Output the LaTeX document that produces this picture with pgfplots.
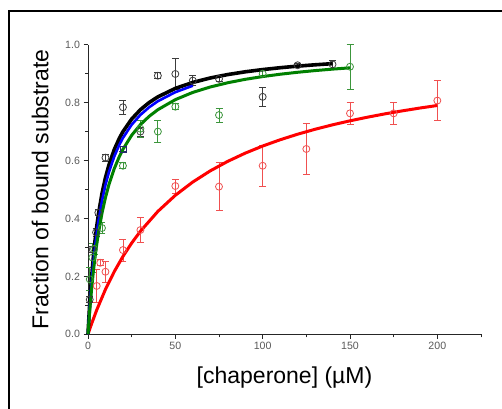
\documentclass[border=0pt]{standalone}
\usepackage{fontspec}
\setmainfont{Liberation Sans}
\usepackage{pgfplots}
\pgfplotsset{compat=1.18}
\definecolor{ptblack}{RGB}{60,60,60}
\definecolor{ptgreen}{RGB}{60,150,60}
\definecolor{ptred}{RGB}{240,80,80}
\definecolor{ptblue}{RGB}{40,40,110}
\definecolor{fitgreen}{RGB}{0,128,0}
\definecolor{ticktext}{RGB}{90,90,90}
\begin{document}
\begin{tikzpicture}
\useasboundingbox (0,0) rectangle (502pt,408pt);
\fill[white] (0,0) rectangle (502pt,408pt);
\draw[line width=1.2pt] (9pt,397pt) rectangle (530pt,-30pt);
\begin{axis}[
  at={(88pt,73.7pt)}, anchor=south west,
  scale only axis,
  width=393pt, height=289.6pt,
  xmin=0, xmax=225, ymin=0, ymax=1.0,
  axis x line*=bottom, axis y line*=left,
  axis line style={line width=1pt, black!85},
  xtick={0,50,100,150,200},
  minor xtick={25,75,125,175,225},
  ytick={0,0.2,0.4,0.6,0.8,1.0},
  minor ytick={0.1,0.3,0.5,0.7,0.9},
  tick align=outside,
  major tick length=4.5pt, minor tick length=3pt,
  every tick/.style={black!85, line width=0.9pt},
  tick label style={font=\fontsize{10.6}{12}\selectfont, text=ticktext},
  /pgf/number format/assume math mode=true,
  yticklabel style={/pgf/number format/fixed, /pgf/number format/fixed zerofill, /pgf/number format/precision=1},
  xlabel={[chaperone] (\textmu M)},
  ylabel={Fraction of bound substrate},
  every axis x label/.style={at={(axis description cs:0.5,-0.151)}, anchor=center,
    font=\fontsize{23}{26}\selectfont},
  every axis y label/.style={at={(axis description cs:-0.122,0.5)}, rotate=90, anchor=center,
    font=\fontsize{23}{26}\selectfont},
  clip=false,
  error bars/y dir=both, error bars/y explicit,
]
% data points
\addplot[only marks, mark=o, mark size=3.5pt, ptblack, line width=0.8pt,
  error bars/error bar style={line width=0.8pt, ptblack},
  error bars/error mark options={rotate=90, mark size=3.5pt, line width=0.8pt}]
  coordinates {
  (1,0.12) +- (0,0.01)
  (2.7,0.293) +- (0,0.01)
  (4.6,0.352) +- (0,0.015)
  (5.9,0.42) +- (0,0.01)
  (10,0.61) +- (0,0.012)
  (20,0.784) +- (0,0.025)
  (30,0.70) +- (0,0.015)
  (40,0.893) +- (0,0.01)
  (50,0.899) +- (0,0.053)
  (60,0.876) +- (0,0.017)
  (75,0.882) +- (0,0.01)
  (100,0.82) +- (0,0.033)
  (120,0.929) +- (0,0.008)
  (140,0.932) +- (0,0.015)
};
\addplot[only marks, mark=square, mark size=3pt, ptblue, line width=0.8pt,
  error bars/error bar style={line width=0.8pt, ptblue},
  error bars/error mark options={rotate=90, mark size=3.5pt, line width=0.8pt}]
  coordinates {
  (20,0.64) +- (0,0.01)
};
\addplot[only marks, mark=o, mark size=3.5pt, ptgreen, line width=0.8pt,
  error bars/error bar style={line width=0.8pt, ptgreen},
  error bars/error mark options={rotate=90, mark size=3.5pt, line width=0.8pt}]
  coordinates {
  (1,0.19) +- (0,0.04)
  (2.5,0.265) +- (0,0.05)
  (3.5,0.295) +- (0,0.02)
  (8,0.367) +- (0,0.02)
  (20,0.582) +- (0,0.01)
  (30,0.71) +- (0,0.03)
  (40,0.70) +- (0,0.038)
  (50,0.786) +- (0,0.01)
  (75,0.757) +- (0,0.024)
  (100,0.90) +- (0,0.01)
  (150,0.924) +- (0,0.077)
};
\addplot[only marks, mark=o, mark size=3.5pt, ptred, line width=0.8pt,
  error bars/error bar style={line width=0.8pt, ptred},
  error bars/error mark options={rotate=90, mark size=3.5pt, line width=0.8pt}]
  coordinates {
  (5,0.167) +- (0,0.058)
  (7,0.247) +- (0,0.01)
  (10,0.216) +- (0,0.036)
  (20,0.291) +- (0,0.038)
  (30,0.36) +- (0,0.043)
  (50,0.512) +- (0,0.024)
  (75,0.51) +- (0,0.083)
  (100,0.582) +- (0,0.07)
  (125,0.640) +- (0,0.088)
  (150,0.763) +- (0,0.038)
  (175,0.763) +- (0,0.037)
  (200,0.807) +- (0,0.07)
};
% fitted curves
\addplot[no marks, red, line width=3pt] coordinates {
  (0,0) (2,0.0354) (5,0.0841) (10,0.1552) (15,0.2161) (20,0.2689) (25,0.3151)
  (30,0.3558) (40,0.4244) (50,0.4800) (60,0.5259) (70,0.5644) (80,0.5972)
  (90,0.6255) (100,0.6501) (110,0.6717) (120,0.6909) (130,0.7080) (140,0.7233)
  (150,0.7372) (160,0.7497) (170,0.7612) (180,0.7716) (190,0.7813) (200,0.7901)
};
\addplot[no marks, black, line width=3.6pt] coordinates {
  (0,0) (0.5,0.0563) (1,0.1065) (2,0.1922) (3,0.2628) (4,0.3220) (5,0.3722)
  (6,0.4154) (8,0.4859) (10,0.5410) (12,0.5852) (15,0.6373) (18,0.6776)
  (20,0.6996) (25,0.7432) (30,0.7755) (35,0.8002) (40,0.8199) (50,0.8491)
  (60,0.8697) (70,0.8851) (80,0.8969) (90,0.9064) (100,0.9141) (110,0.9205)
  (120,0.9260) (130,0.9306) (140,0.9346)
};
\addplot[no marks, blue, line width=2.6pt] coordinates {
  (0,0) (0.5,0.0510) (1,0.0971) (2,0.1768) (3,0.2434) (4,0.3000) (5,0.3486)
  (6,0.3908) (8,0.4605) (10,0.5156) (12,0.5604) (15,0.6136) (18,0.6551)
  (20,0.6781) (25,0.7237) (30,0.7577) (35,0.7839) (40,0.8049) (50,0.8361)
  (60,0.8584)
};
\addplot[no marks, fitgreen, line width=3pt] coordinates {
  (0,0) (0.5,0.0433) (1,0.0829) (2,0.1530) (3,0.2130) (4,0.2650) (5,0.3104)
  (6,0.3504) (8,0.4178) (10,0.4722) (12,0.5172) (15,0.5716) (18,0.6147)
  (20,0.6388) (25,0.6873) (30,0.7240) (35,0.7526) (40,0.7756) (50,0.8103)
  (60,0.8353) (70,0.8540) (80,0.8686) (90,0.8804) (100,0.8900) (110,0.8980)
  (120,0.9048) (130,0.9106) (140,0.9157) (150,0.9201)
};
\end{axis}
\end{tikzpicture}
\end{document}
